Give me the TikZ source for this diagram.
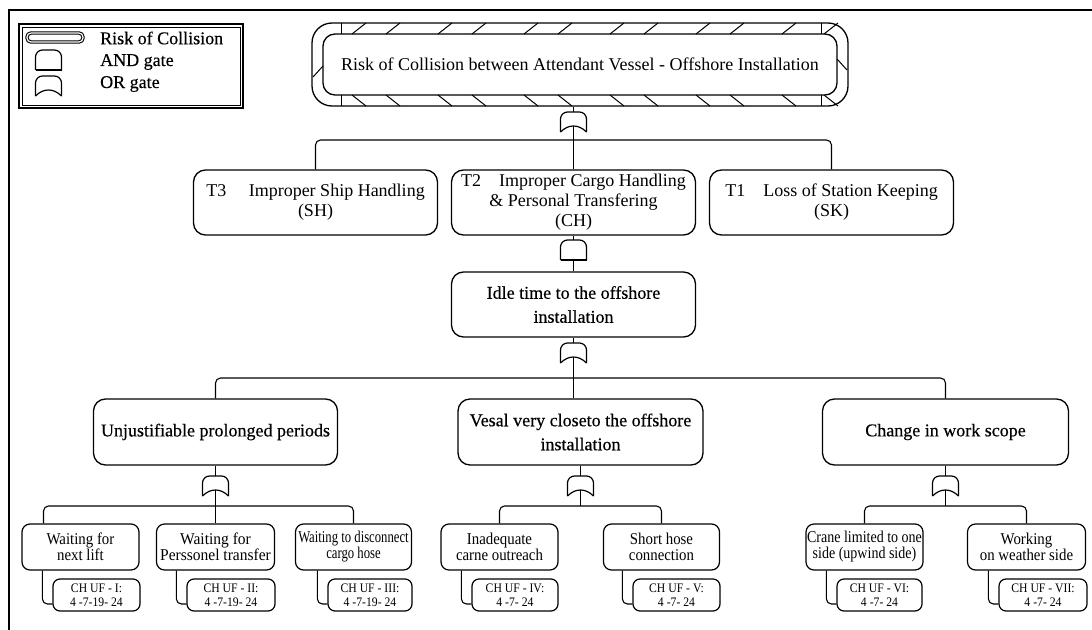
\documentclass[tikz,border=0pt]{standalone}
\usepackage{fontspec}
\setmainfont{Liberation Serif}
\newfontfamily\heavyserif[FakeBold=0.35]{Liberation Serif}
\newfontfamily\leaffont[FakeStretch=0.9]{Liberation Serif}
\newfontfamily\leafwide[FakeStretch=0.94]{Liberation Serif}
\newfontfamily\leafnarrow[FakeStretch=0.77]{Liberation Serif}
\newfontfamily\leafsemi[FakeStretch=0.85]{Liberation Serif}
\newfontfamily\codefont[FakeStretch=0.9]{Liberation Serif}
\usetikzlibrary{calc}

\tikzset{
  gateline/.style={line width=1.2pt},
  box/.style={draw, line width=1.3pt, rounded corners=12pt, inner sep=0pt, align=center,
    font=\fontsize{18}{24}\selectfont},
  tbox/.style={box, font=\fontsize{18}{20}\selectfont, minimum width=244pt, minimum height=65pt},
  midbox/.style={box, minimum height=66pt, font=\heavyserif\fontsize{18}{24}\selectfont},
  leaf/.style={draw, line width=1.2pt, rounded corners=8pt, inner sep=0pt, align=center,
    minimum height=46pt, font=\leaffont\fontsize{16.5}{16}\selectfont},
  code/.style={draw, line width=1.2pt, rounded corners=7pt, inner sep=0pt, align=center,
    minimum height=32pt, font=\codefont\fontsize{13}{14}\selectfont},
  conn/.style={line width=1.1pt, rounded corners=5pt},
  gatebox/.style={minimum width=26pt, minimum height=20pt, inner sep=0pt},
  hatch/.style={line width=1pt},
  legendtext/.style={anchor=west, inner sep=0pt, font=\heavyserif\fontsize{18}{20}\selectfont},
}

% AND gate: name, centre x, top y
\newcommand\andgate[3]{%
  \node[gatebox] (#1) at (#2,#3+10) {};
  \draw[gateline, rounded corners=7pt] (#2-13,#3+20) -- (#2-13,#3) -- (#2+13,#3) -- (#2+13,#3+20);
  \draw[gateline] (#2-13,#3+20) -- (#2+13,#3+20);
}
% OR gate: name, centre x, top y ; (name-in) is the apex of the concave base
\newcommand\orgate[3]{%
  \node[gatebox] (#1) at (#2,#3+10) {};
  \coordinate (#1-in) at (#2,#3+14);
  \draw[gateline, rounded corners=7pt] (#2-13,#3+20) -- (#2-13,#3) -- (#2+13,#3) -- (#2+13,#3+20);
  \draw[gateline] (#2+13,#3+20) .. controls (#2+5,#3+12) and (#2-5,#3+12) .. (#2-13,#3+20);
}

\begin{document}
\begin{tikzpicture}[x=1pt,y=-1pt]
\useasboundingbox (0,0) rectangle (1092,629);
\fill[white] (0,0) rectangle (1092,629);

% outer frame
\draw[line width=2.5pt] (9,640) -- (9,10) -- (1100,10);

% legend
\draw[line width=1.1pt] (19,24) rectangle (243,108);
\draw[line width=0.9pt] (22,27) rectangle (240,105);
\draw[line width=1.1pt, double, double distance=1.2pt, rounded corners=4pt] (27,33) rectangle (83,42);
\node[legendtext] (lg1) at (100,38) {Risk of Collision};
\andgate{lgand}{48.5}{50}
\node[legendtext] (lg2) at (100,62) {AND gate};
\orgate{lgor}{48.5}{76}
\node[legendtext] (lg3) at (100,84) {OR gate};

% top event with hatched band
\node[draw, line width=1.3pt, rounded corners=20pt, minimum width=536pt, minimum height=83pt, inner sep=0pt] (evout) at (580,64.5) {};
\node[box, minimum width=514pt, minimum height=61pt] (ev) at (580,64.5)
  {Risk of Collision between Attendant Vessel - Offshore Installation};
\foreach \x in {341,821}{
  \draw[hatch] (\x,23) -- (\x,34);
  \draw[hatch] (\x,95) -- (\x,106);
}
\foreach \x in {352,386,438,472,524,558,610,644,696,730,782,824}{
  \draw[hatch] (\x,34) -- ++(14,-11);
  \draw[hatch] (\x,95) -- ++(14,11);
}
\draw[hatch] (313,77) -- (323,66);
\draw[hatch] (837,59) -- (847,70);

% first level
\orgate{g0}{573.5}{112}
\coordinate (b0) at (573.5,140);
\node[tbox] (t3) at (315.5,202.5) {T3\quad\ Improper Ship Handling\\(SH)};
\node[tbox] (t2) at (573.5,202.5) {T2\quad Improper Cargo Handling\\\& Personal Transfering\\(CH)};
\node[tbox] (t1) at (831.5,202.5) {T1\quad Loss of Station Keeping\\(SK)};
\draw[conn] (evout.south -| g0.north) -- (g0.north);
\draw[conn] (t3.north) |- (b0) -| (t1.north);
\draw[conn] (g0-in) -- (g0-in |- t2.north);

% idle time
\andgate{g1}{573.5}{240}
\node[midbox, minimum width=244pt, minimum height=65pt] (idle) at (573.5,304.5) {Idle time to the offshore\\installation};
\draw[conn] (t2.south -| g1.north) -- (g1.north);
\draw[conn] (g1.south) -- (g1.south |- idle.north);

\orgate{g2}{573.5}{343}
\coordinate (b1) at (573.5,378);
\draw[conn] (idle.south -| g2.north) -- (g2.north);

% second level
\node[midbox, minimum width=244pt] (u) at (215.5,432) {Unjustifiable prolonged periods};
\node[midbox, minimum width=245pt] (v) at (580.5,432) {Vesal very closeto the offshore\\installation};
\node[midbox, minimum width=246pt] (c) at (945.5,432) {Change in work scope};
\draw[conn] (u.north) |- (b1) -| (c.north);
\draw[conn] (g2-in) -- (b1) -- (b1 |- v.north);

\orgate{gu}{215.5}{476}
\orgate{gv}{580.5}{476}
\orgate{gc}{945.5}{476}
\draw[conn] (u.south -| gu.north) -- (gu.north);
\draw[conn] (v.south -| gv.north) -- (gv.north);
\draw[conn] (c.south -| gc.north) -- (gc.north);
\coordinate (bu) at (215.5,506);
\coordinate (bv) at (580.5,506);
\coordinate (bc) at (945.5,506);

% basic events
\node[leaf, minimum width=117pt] (l1) at (80.5,547) {Waiting for\\next lift};
\node[leaf, minimum width=118pt, font=\leafwide\fontsize{16.5}{16}\selectfont] (l2) at (215.5,547) {Waiting for\\Perssonel transfer};
\node[leaf, minimum width=116pt, font=\leafnarrow\fontsize{16.5}{16}\selectfont] (l3) at (353.5,547) {Waiting to disconnect\\cargo hose};
\node[leaf, minimum width=117pt] (l4) at (499.5,547) {Inadequate\\carne outreach};
\node[leaf, minimum width=116pt] (l5) at (661.5,547) {Short hose\\connection};
\node[leaf, minimum width=117pt, font=\leafsemi\fontsize{16.5}{16}\selectfont] (l6) at (864.5,547) {Crane limited to one\\side (upwind side)};
\node[leaf, minimum width=118pt] (l7) at (1026.5,547) {Working\\on weather side};

\coordinate (k1) at (43.5,0);
\draw[conn] (k1 |- l1.north) |- (bu) -| (l3.north);
\draw[conn] (gu-in) -- (gu-in |- l2.north);
\draw[conn] (l4.north) |- (bv) -| (l5.north);
\draw[conn] (gv-in) -- (bv);
\draw[conn] (l6.north) |- (bc) -| (l7.north);
\draw[conn] (gc-in) -- (bc);

% codes of the basic events
\node[code, minimum width=87pt] (c1) at (96.5,595) {CH UF - I:\\4 -7-19- 24};
\node[code, minimum width=88pt] (c2) at (231,595) {CH UF - II:\\4 -7-19- 24};
\node[code, minimum width=84pt] (c3) at (370,595) {CH UF - III:\\4 -7-19- 24};
\node[code, minimum width=86pt] (c4) at (515,595) {CH UF - IV:\\4 -7- 24};
\node[code, minimum width=87pt] (c5) at (676.5,595) {CH UF - V:\\4 -7- 24};
\node[code, minimum width=85pt] (c6) at (879.5,595) {CH UF - VI:\\4 -7- 24};
\node[code, minimum width=88pt] (c7) at (1043,595) {CH UF - VII:\\4 -7- 24};

\foreach \l/\c in {l1/c1,l2/c2,l3/c3,l4/c4,l5/c5,l6/c6,l7/c7}{
  \draw[conn] ([xshift=-10pt]\c.west |- \l.south) |- ([yshift=-9pt]\c.west);
}
\end{tikzpicture}
\end{document}
